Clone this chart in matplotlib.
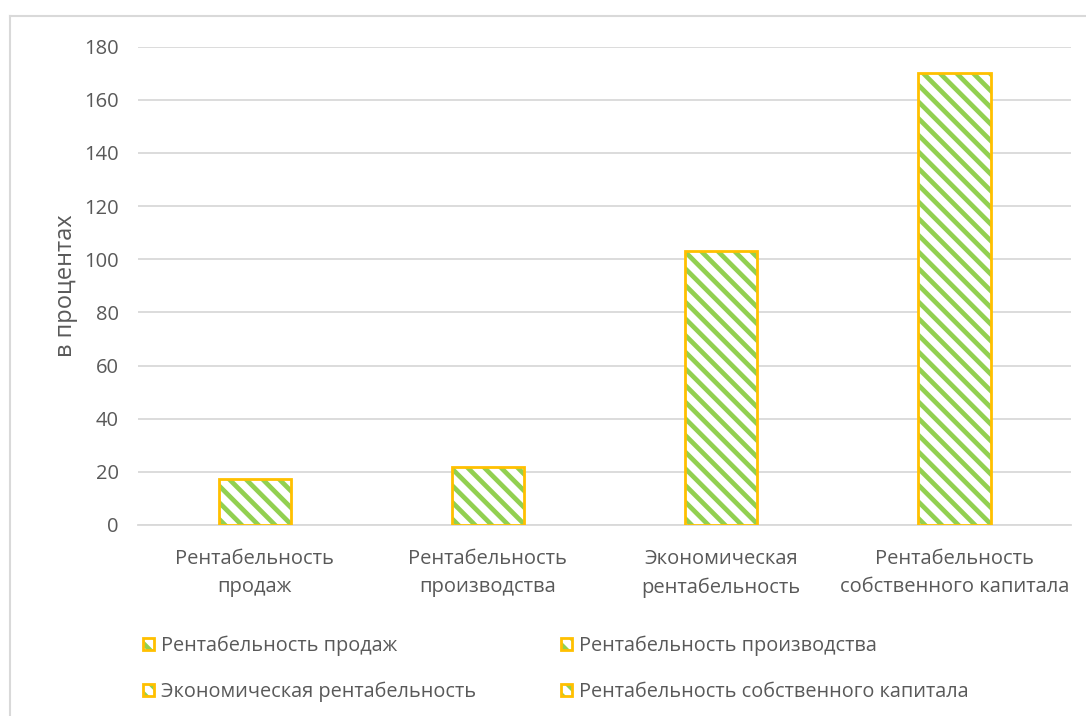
import matplotlib.pyplot as plt
from matplotlib.lines import Line2D

plt.rcParams['font.family'] = ['Open Sans', 'DejaVu Sans']
plt.rcParams['hatch.linewidth'] = 3.4

categories = ["Рентабельность\nпродаж", "Рентабельность\nпроизводства",
              "Экономическая\nрентабельность", "Рентабельность\nсобственного капитала"]
legend_labels = ["Рентабельность продаж", "Рентабельность производства",
                 "Экономическая рентабельность", "Рентабельность собственного капитала"]
values = [17.4, 21.8, 103.2, 170.1]
y_ticks = [0, 20, 40, 60, 80, 100, 120, 140, 160, 180]

GREEN = "#92D050"
GOLD = "#FFC000"
GRID = "#D9D9D9"
TEXT = "#595959"

fig = plt.figure(figsize=(10.86, 7.16), dpi=100)
ax = fig.add_axes([0.1271, 0.2668, 0.8591, 0.668])

handles = []
for i, v in enumerate(values):
    # hatch takes the edge colour, so draw hatch and outline as two layers
    h1 = ax.bar(i, v, width=0.31, color="white", edgecolor=GREEN, hatch="\\\\",
                linewidth=0, zorder=3)
    h2 = ax.bar(i, v, width=0.31, fill=False, edgecolor=GOLD, linewidth=2, zorder=4)
    handles.append((h1[0], h2[0]))

ax.set_xlim(-0.5, 3.5)
ax.set_ylim(0, 180)
ax.set_yticks(y_ticks)
ax.set_xticks(range(len(categories)))
ax.set_xticklabels(categories, linespacing=1.55)
ax.tick_params(axis="both", length=0, labelsize=14.5, colors=TEXT)
ax.tick_params(axis="y", pad=14)
ax.tick_params(axis="x", pad=17)
ax.grid(axis="y", color=GRID, linewidth=1.3, zorder=0)
for s in ["left", "right", "top"]:
    ax.spines[s].set_visible(False)
ax.spines["bottom"].set_color(GRID)
ax.spines["bottom"].set_linewidth(1.3)

ax.set_ylabel("в процентах", fontsize=17, color=TEXT)
ax.yaxis.set_label_coords(-0.064, 0.5)

# legend is filled row by row in the reference
order = [0, 2, 1, 3]
fig.legend(handles=[handles[k] for k in order],
           labels=[legend_labels[k] for k in order], ncol=2,
           loc="upper left", bbox_to_anchor=(0.1314, 0.112), frameon=False,
           fontsize=14.3, labelcolor=TEXT, handlelength=0.55, handleheight=0.55,
           handletextpad=0.35, columnspacing=4.3, labelspacing=1.28,
           borderaxespad=0, borderpad=0)

# outer chart frame (partially visible)
fig.add_artist(Line2D([10 / 1086, 10 / 1086], [0, 1 - 16 / 716], color=GRID,
                      linewidth=1.5, transform=fig.transFigure))
fig.add_artist(Line2D([10 / 1086, 1], [1 - 16 / 716, 1 - 16 / 716], color=GRID,
                      linewidth=1.5, transform=fig.transFigure))

fig.savefig("out.png", dpi=100)
